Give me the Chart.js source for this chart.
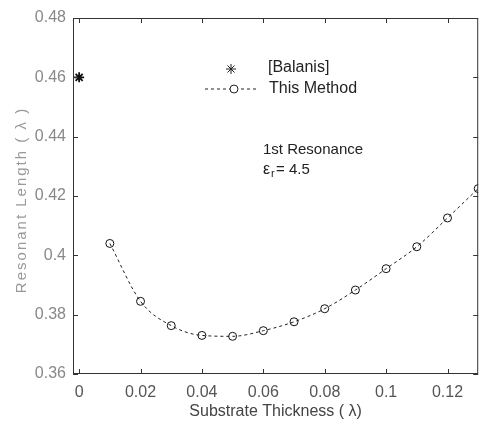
<!DOCTYPE html>
<html>
<head>
<meta charset="utf-8">
<script src="https://cdn.jsdelivr.net/npm/chart.js@4/dist/chart.umd.min.js"></script>
<style>
  html, body { margin: 0; padding: 0; background: #fff; }
  #wrap { width: 485px; height: 430px; }
</style>
</head>
<body>
<div id="wrap"><canvas id="chart"></canvas></div>
<script>
// data
const thickness = [0.01, 0.02, 0.03, 0.04, 0.05, 0.06, 0.07, 0.08, 0.09, 0.10, 0.11, 0.12, 0.13];
const lengthThisMethod = [0.404, 0.3845, 0.3763, 0.373, 0.3727, 0.3746, 0.3776, 0.382, 0.3883, 0.3955, 0.4029, 0.4126, 0.4225];
const balanisX = [0];
const balanisY = [0.46];
const xTicks = [0, 0.02, 0.04, 0.06, 0.08, 0.1, 0.12];
const yTicks = [0.36, 0.38, 0.4, 0.42, 0.44, 0.46, 0.48];

const FONT = 'Liberation Sans, Arial, sans-serif';

const fmt = v => String(Number(v.toFixed(3)));

// box, inward ticks, legend, note and y title (matlab look)
const decor = {
  id: 'decor',
  afterDraw(chart) {
    const { ctx, chartArea: a, scales: { x, y } } = chart;
    ctx.save();
    ctx.strokeStyle = '#333';
    ctx.lineWidth = 1;
    ctx.strokeRect(a.left + 0.5, a.top + 0.5, a.right - a.left - 1, a.bottom - a.top - 1);
    ctx.beginPath();
    xTicks.forEach(v => {
      const px = Math.round(x.getPixelForValue(v)) + 0.5;
      ctx.moveTo(px, a.bottom); ctx.lineTo(px, a.bottom - 5);
      ctx.moveTo(px, a.top); ctx.lineTo(px, a.top + 5);
    });
    yTicks.forEach(v => {
      const py = Math.round(y.getPixelForValue(v)) + 0.5;
      ctx.moveTo(a.left, py); ctx.lineTo(a.left + 5, py);
      ctx.moveTo(a.right, py); ctx.lineTo(a.right - 5, py);
    });
    ctx.stroke();

    // y title, letter spaced like the scan
    ctx.save();
    ctx.translate(22, (a.top + a.bottom) / 2 + 4);
    ctx.rotate(-Math.PI / 2);
    ctx.fillStyle = '#999';
    ctx.font = '15px ' + FONT;
    ctx.letterSpacing = '2px';
    ctx.textAlign = 'center';
    ctx.textBaseline = 'middle';
    ctx.fillText('Resonant Length ( \u03BB )', 0, 0);
    ctx.restore();

    // legend
    ctx.fillStyle = '#222';
    ctx.strokeStyle = '#222';
    ctx.font = '16px ' + FONT;
    ctx.textBaseline = 'middle';
    ctx.textAlign = 'left';
    Chart.helpers.drawPoint(ctx, { pointStyle: 'star', radius: 5, borderWidth: 1.8 }, 231, 69);
    ctx.fillText('[Balanis]', 268, 68);
    ctx.setLineDash([3, 3]);
    ctx.beginPath();
    ctx.moveTo(205, 89); ctx.lineTo(258, 89);
    ctx.stroke();
    ctx.setLineDash([]);
    ctx.fillStyle = '#fff';
    Chart.helpers.drawPoint(ctx, { pointStyle: 'circle', radius: 4, borderWidth: 1 }, 234, 89);
    ctx.fillStyle = '#222';
    ctx.fillText('This Method', 269, 89);

    // annotation
    ctx.font = '15px ' + FONT;
    ctx.fillText('1st Resonance', 263, 150);
    ctx.font = '16px ' + FONT;
    ctx.fillText('\u03B5', 263, 170);
    ctx.font = '11px ' + FONT;
    ctx.fillText('r', 271, 174);
    ctx.font = '15px ' + FONT;
    ctx.fillText('= 4.5', 276, 170);
    ctx.restore();
  }
};

new Chart(document.getElementById('chart'), {
  type: 'scatter',
  data: {
    datasets: [
      {
        label: '[Balanis]',
        data: balanisX.map((v, i) => ({ x: v, y: balanisY[i] })),
        pointStyle: 'star',
        pointRadius: 5,
        borderColor: '#111',
        borderWidth: 1.8,
        showLine: false
      },
      {
        label: 'This Method',
        data: thickness.map((v, i) => ({ x: v, y: lengthThisMethod[i] })),
        pointStyle: 'circle',
        pointRadius: 4,
        pointBackgroundColor: 'rgba(255,255,255,0)',
        pointBorderColor: '#111',
        pointBorderWidth: 1,
        borderColor: '#222',
        borderWidth: 1,
        borderDash: [3, 3],
        showLine: true,
        cubicInterpolationMode: 'monotone'
      }
    ]
  },
  options: {
    responsive: true,
    maintainAspectRatio: false,
    animation: false,
    layout: { padding: { top: 18, right: 4, left: 0, bottom: 0 } },
    plugins: { legend: { display: false }, tooltip: { enabled: false } },
    scales: {
      x: {
        type: 'linear',
        min: -0.002,
        max: 0.13,
        afterBuildTicks: s => { s.ticks = xTicks.map(v => ({ value: v })); },
        afterFit: s => { s.height = 56; },
        grid: { display: false, drawTicks: false },
        border: { display: false },
        ticks: { padding: 9, color: '#555', font: { family: FONT, size: 16 }, callback: fmt, maxRotation: 0 },
        title: { display: true, text: 'Substrate Thickness ( \u03BB)', color: '#444', font: { family: FONT, size: 16 }, padding: { top: 0, bottom: 9 } }
      },
      y: {
        type: 'linear',
        min: 0.36,
        max: 0.48,
        afterBuildTicks: s => { s.ticks = yTicks.map(v => ({ value: v })); },
        afterFit: s => { s.width = 73; },
        grid: { display: false, drawTicks: false },
        border: { display: false },
        ticks: { padding: 7, color: '#888', font: { family: FONT, size: 16 }, callback: fmt },
        title: { display: false }
      }
    }
  },
  plugins: [decor]
});
</script>
</body>
</html>
